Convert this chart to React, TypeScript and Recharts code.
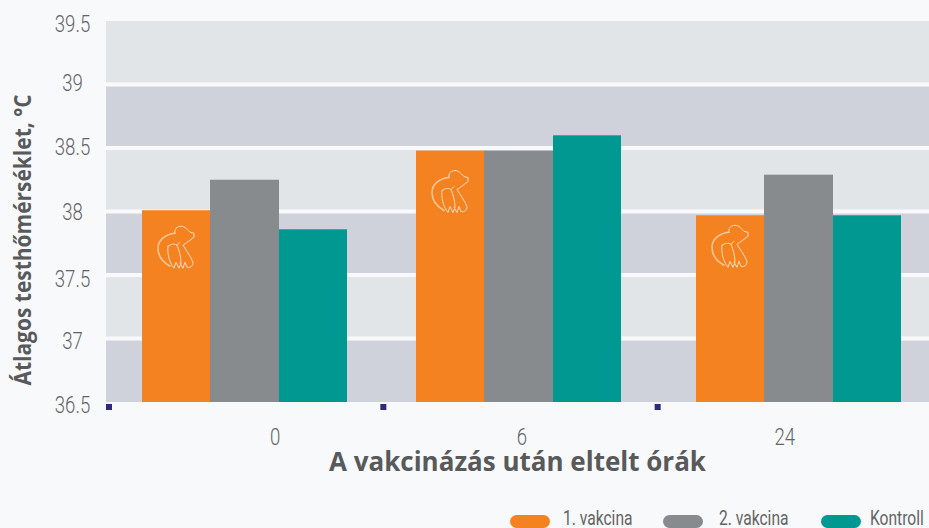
import React from "react";
import { BarChart, Bar, XAxis, YAxis, CartesianGrid, Legend, Label } from "recharts";

const categories = ["0", "6", "24"];
const vakcina1 = [38.01, 38.48, 37.97];
const vakcina2 = [38.25, 38.48, 38.29];
const kontroll = [37.86, 38.6, 37.97];
const yTicks = [36.5, 37, 37.5, 38, 38.5, 39, 39.5];
const seriesNames = ["1. vakcina", "2. vakcina", "Kontroll"];
const seriesColors = ["#f58220", "#888b8d", "#009891"];

const data = categories.map((c, i) => ({
  c,
  [seriesNames[0]]: vakcina1[i],
  [seriesNames[1]]: vakcina2[i],
  [seriesNames[2]]: kontroll[i],
}));

const W = 929;
const H = 528;
const BG = "#f8f9fb";
const TEXT = "#636466";
const TITLE = "#58595b";
const BAND = (W - 106) / 3;
const groupNudge = [1.7, 1.5, 7];
const seriesNudge = [0, 0, 1];
const seriesWiden = [0, 1, 0];
const xLabelNudge = [32, 4.5, -7];
const yLabelNudge: Record<string, number> = { "36.5": 2, "37": 1.5, "37.5": 3, "38": 0, "38.5": -2, "39": -2.5, "39.5": 2 };
const iconDrop = [40, 44, 34];
const TICK_FONT = "Roboto, sans-serif";
const TITLE_FONT = "'Open Sans', sans-serif";

const PigIcon = ({ x, y }: { x: number; y: number }) => (
  <g transform={`translate(${x},${y})`} fill="none" stroke="#fcdcbd" strokeLinejoin="round" strokeLinecap="round">
    <path d="M-1,-17 C-11,-16 -18,-10 -18,-2 C-18,6 -13,12 -6,16" strokeWidth={1.6} opacity={0.75} />
    <path
      d="M-1,-17 C-2,-21 1,-24 5,-24 C9,-24 12,-20 14,-18 L18,-17 L18,-13 C14,-10 10,-7 7,-5 C10,0 14,5 17,12 C17,16 14,18 11,17 L9,12 L7,18 L4,13 M-8,-4 C-9,2 -7,12 -2,18 L0,12 L3,18 L5,13 C5,6 3,0 1,-5 C-2,-7 -5,-6 -8,-4 M1,-5 L4,-8"
      strokeWidth={1}
    />
  </g>
);

const BarShape = (props: any) => {
  const { x, y, width, height, fill, index, seriesIndex } = props;
  const nx = Math.round(x + groupNudge[index]) + seriesNudge[seriesIndex];
  return (
    <g>
      <rect x={nx} y={y} width={Math.round(width) + seriesWiden[seriesIndex]} height={height} fill={fill} />
      {seriesIndex === 0 ? <PigIcon x={nx + 34} y={y + iconDrop[index]} /> : null}
    </g>
  );
};

const XTick = (props: any) => {
  const { x, y, index, payload } = props;
  const cx = x + xLabelNudge[index];
  return (
    <g>
      <rect x={x - BAND / 2} y={y + 2} width={6} height={6} fill="#2e2a7e" />
      <text
        transform={`translate(${cx},${y + 43}) scale(0.76,1)`}
        textAnchor="middle"
        fontFamily={TICK_FONT}
        fontWeight={300}
        fontSize={24.5}
        fill={TEXT}
      >
        {payload.value}
      </text>
    </g>
  );
};

const YTick = (props: any) => {
  const { y, payload } = props;
  const ny = y + (yLabelNudge[String(payload.value)] ?? 0) + 8.5;
  return (
    <text
      transform={`translate(72.5,${ny}) scale(0.76,1)`}
      textAnchor="middle"
      fontFamily={TICK_FONT}
      fontWeight={300}
      fontSize={24.5}
      fill={TEXT}
    >
      {payload.value}
    </text>
  );
};

const legendSpots = [
  { pill: 510, text: 563 },
  { pill: 663, text: 719 },
  { pill: 821, text: 870 },
];

const LegendContent = (props: any) => (
  <div style={{ position: "relative", width: W, height: 20 }}>
    {(props.payload ?? []).map((p: any, i: number) => (
      <React.Fragment key={p.value}>
        <div
          style={{
            position: "absolute",
            left: legendSpots[i].pill,
            top: 7,
            width: 40,
            height: 12.5,
            borderRadius: 6.5,
            background: p.color,
          }}
        />
        <div
          style={{
            position: "absolute",
            left: legendSpots[i].text,
            top: 0,
            fontFamily: TICK_FONT,
            fontSize: 20,
            lineHeight: "20px",
            color: TEXT,
            whiteSpace: "nowrap",
            transform: "scaleX(0.78)",
            transformOrigin: "left center",
          }}
        >
          {p.value}
        </div>
      </React.Fragment>
    ))}
  </div>
);

const interiorLines = ({ offset }: any) => {
  const lo = yTicks[0];
  const hi = yTicks[yTicks.length - 1];
  return yTicks.slice(1, -1).map((t) => offset.top + (offset.height * (hi - t)) / (hi - lo));
};

export default function App() {
  return (
    <div style={{ position: "fixed", left: 0, top: 0, width: W, height: H, background: BG, overflow: "hidden" }}>
      <BarChart
        width={W}
        height={H}
        data={data}
        margin={{ top: 21, right: 0, bottom: 46, left: 0 }}
        barCategoryGap={34.5}
        barGap={0}
      >
        <CartesianGrid
          vertical={false}
          stroke="none"
          horizontalFill={["#e2e5e8", "#cfd2da"]}
          fillOpacity={1}
          syncWithTicks
        />
        <CartesianGrid
          vertical={false}
          stroke={BG}
          strokeWidth={4}
          strokeOpacity={1}
          fill="none"
          horizontalCoordinatesGenerator={interiorLines}
        />
        <XAxis dataKey="c" interval={0} tickLine={false} axisLine={false} tickSize={0} tickMargin={0} height={60} tick={<XTick />}>
          <Label
            content={() => (
              <text
                x={517.5}
                y={471}
                textAnchor="middle"
                fontFamily={TITLE_FONT}
                fontWeight={700}
                fontSize={26}
                fill={TITLE}
                textLength={377}
                lengthAdjust="spacingAndGlyphs"
              >
                A vakcinázás után eltelt órák
              </text>
            )}
          />
        </XAxis>
        <YAxis
          domain={[36.5, 39.5]}
          ticks={yTicks}
          width={106}
          interval={0}
          tickLine={false}
          axisLine={false}
          tick={<YTick />}
        >
          <Label
            content={() => (
              <text
                transform="translate(31,240) rotate(-90)"
                textAnchor="middle"
                fontFamily={TITLE_FONT}
                fontWeight={700}
                fontSize={23}
                fill={TITLE}
                textLength={291}
                lengthAdjust="spacingAndGlyphs"
              >
                Átlagos testhőmérséklet, °C
              </text>
            )}
          />
        </YAxis>
        <Legend
          verticalAlign="bottom"
          height={20}
          content={<LegendContent />}
          wrapperStyle={{ left: 0, bottom: 0, width: W, height: 20 }}
        />
        {seriesNames.map((name, i) => (
          <Bar
            key={name}
            dataKey={name}
            fill={seriesColors[i]}
            isAnimationActive={false}
            shape={<BarShape seriesIndex={i} />}
          />
        ))}
      </BarChart>
    </div>
  );
}
